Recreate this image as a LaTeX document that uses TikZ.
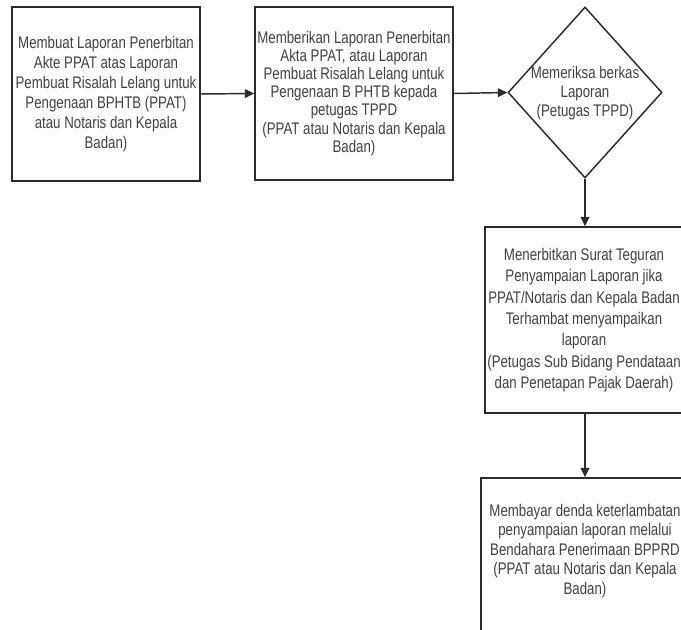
\documentclass[tikz,border=0pt]{standalone}
\usepackage{fontspec}
\setmainfont{Liberation Sans}[FakeStretch=0.79]
\usetikzlibrary{arrows.meta,shapes.geometric}
\definecolor{txtc}{HTML}{404040}
\definecolor{linec}{HTML}{2B2B2B}
\begin{document}
\begin{tikzpicture}[x=0.75pt,y=-0.75pt,
  boxst/.style={draw=linec,line width=1.1pt,rectangle,inner sep=0pt,align=center,text=txtc},
  txtst/.style={inner sep=0pt,align=center,text=txtc},
  arr/.style={draw=linec,line width=1.1pt,-{Triangle[length=7pt,width=6.5pt]}}]
\useasboundingbox (0,0) rectangle (681,630);
\clip (0,0) rectangle (681,630);
\node[boxst,minimum width=188*0.75pt,minimum height=174*0.75pt,
  font=\fontsize{12.6}{15}\selectfont] (b1) at (106,94)
  {Membuat Laporan Penerbitan\\Akte PPAT atas Laporan\\Pembuat Risalah Lelang untuk\\Pengenaan BPHTB (PPAT)\\atau Notaris dan Kepala\\Badan)};
\node[boxst,minimum width=198*0.75pt,minimum height=173*0.75pt,
  font=\fontsize{12.6}{13.6}\selectfont] (b2) at (354,93.5)
  {Memberikan Laporan Penerbitan\\Akta PPAT, atau Laporan\\Pembuat Risalah Lelang untuk\\Pengenaan B PHTB kepada\\petugas TPPD\\(PPAT atau Notaris dan Kepala\\Badan)};
\node[draw=linec,line width=1.1pt,diamond,inner sep=0pt,
  minimum width=154*0.75pt,minimum height=171*0.75pt] (d) at (585,92.5) {};
\node[txtst,font=\fontsize{12.6}{14.3}\selectfont] (dt) at (585,93)
  {Memeriksa berkas\\Laporan\\(Petugas TPPD)};
\node[boxst,minimum width=198*0.75pt,minimum height=186*0.75pt,
  font=\fontsize{12.6}{16}\selectfont] (b3) at (584,320)
  {Menerbitkan Surat Teguran\\Penyampaian Laporan jika\\PPAT/Notaris dan Kepala Badan\\Terhambat menyampaikan\\laporan\\(Petugas Sub Bidang Pendataan\\dan Penetapan Pajak Daerah)};
\node[boxst,minimum width=208*0.75pt,minimum height=200*0.75pt] (b4) at (585,578) {};
\node[txtst,font=\fontsize{12.6}{14.6}\selectfont] (b4t) at (585,551)
  {Membayar denda keterlambatan\\penyampaian laporan melalui\\Bendahara Penerimaan BPPRD\\(PPAT atau Notaris dan Kepala\\Badan)};
\draw[arr] (b1.east) -- (b2.west);
\draw[arr] (b2.east) -- (d.west);
\draw[arr] (d.south) -- (d.south |- b3.north);
\draw[arr] (d.south |- b3.south) -- (d.south |- b4.north);
\end{tikzpicture}
\end{document}
